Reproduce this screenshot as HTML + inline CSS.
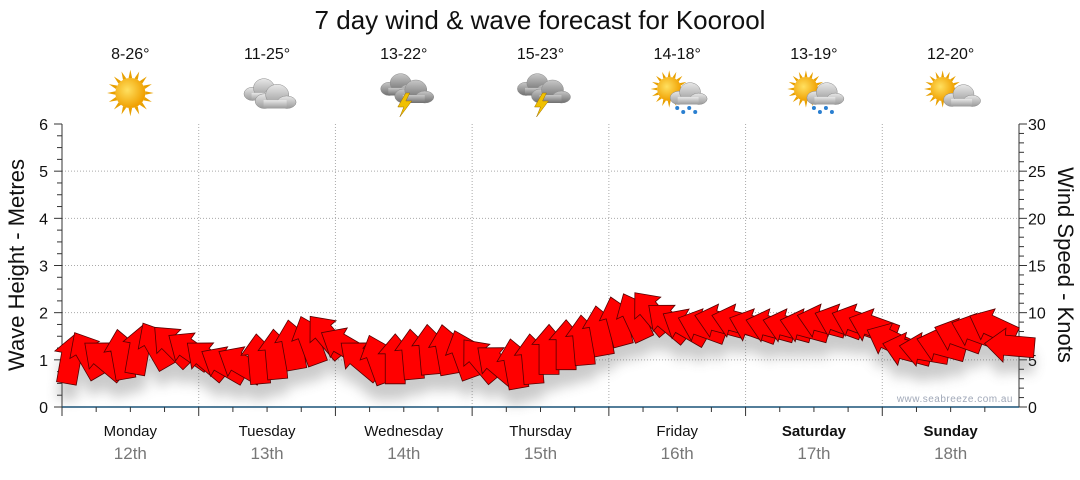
<!DOCTYPE html>
<html><head><meta charset="utf-8"><style>
body{margin:0;background:#fff;width:1080px;height:475px;overflow:hidden;font-family:"Liberation Sans","DejaVu Sans",sans-serif}
</style></head><body>
<svg width="1080" height="475" xmlns="http://www.w3.org/2000/svg" id="chart">
<defs>
<filter id="sh" x="-50%" y="-50%" width="200%" height="200%"><feGaussianBlur stdDeviation="6"/></filter>
<radialGradient id="sun" cx="40%" cy="40%" r="60%"><stop offset="0" stop-color="#ffe060"/><stop offset="1" stop-color="#f0a000"/></radialGradient>
<linearGradient id="cl" x1="0" y1="0" x2="0" y2="1"><stop offset="0" stop-color="#e8e8e8"/><stop offset="1" stop-color="#9a9a9a"/></linearGradient>
<linearGradient id="dcl" x1="0" y1="0" x2="0" y2="1"><stop offset="0" stop-color="#c8c8c8"/><stop offset="1" stop-color="#6e6e6e"/></linearGradient>
</defs>
<text x="540" y="29" text-anchor="middle" font-size="26" fill="#111">7 day wind &amp; wave forecast for Koorool</text>
<g id="grid"></g>
<g id="axes"></g>
<g id="icons"></g>
<g id="shadow" filter="url(#sh)" opacity="0.3"></g>
<g id="arrows"></g>
<text x="1013" y="402" text-anchor="end" font-size="10" fill="#a0a8b8" letter-spacing="0.5">www.seabreeze.com.au</text>
<text transform="translate(24,265) rotate(-90)" text-anchor="middle" font-size="22" fill="#111">Wave Height - Metres</text>
<text transform="translate(1058,265) rotate(90)" text-anchor="middle" font-size="22" fill="#111">Wind Speed - Knots</text>
</svg>
<script>
const days=["Monday","Tuesday","Wednesday","Thursday","Friday","Saturday","Sunday"];
const dates=["12th","13th","14th","15th","16th","17th","18th"];
const temps=["8-26°","11-25°","13-22°","15-23°","14-18°","13-19°","12-20°"];
const icons=["sun","cloud","storm","storm","sunrain","sunrain","suncloud"];
const waveTicks=[0,1,2,3,4,5,6];
const windTicks=[0,5,10,15,20,25,30];
// 3-hourly wind speed (knots)
const windSpeed=[5,5.5,5,5.5,6,6.5,6.5,6, 5,4.5,4.5,5,5.5,6.5,7,7.5, 6.5,5,5,5,5.5,6,6,5.5, 5,4.5,4.5,5,6,6.5,7,8, 9,9.5,10,9,8.5,8.5,9,9, 8.5,8.5,8.5,8.5,9,9,9,8.5, 7,6,6,6.5,7.5,8,8.5,6.5];
// arrow screen angle (deg, 0=right, -90=up)
const windDir=[-80,-120,-140,-100,-80,-120,-135,-145, -140,-150,-150,-95,-95,-100,-110,-130, -150,-140,-110,-90,-95,-95,-100,-110, -130,-140,-100,-95,-90,-90,-95,-100, -105,-115,-130,-140,-150,-160,-165,-165, -160,-165,-165,-165,-165,-160,-160,-160, -155,-165,-170,-165,-160,-160,-155,-175];
const X0=62,X1=1019,Y0=407,Y1=124;
const dayW=(X1-X0)/7;
const xT=t=>X0+t*dayW;
const yW=v=>Y0-(v/6)*(Y0-Y1);
const yK=v=>Y0-(v/30)*(Y0-Y1);
const NS="http://www.w3.org/2000/svg";
function mk(tag,attrs,parent){const e=document.createElementNS(NS,tag);for(const k in attrs)e.setAttribute(k,attrs[k]);parent.appendChild(e);return e;}
const grid=document.getElementById('grid'),axes=document.getElementById('axes'),ic=document.getElementById('icons');
waveTicks.forEach(v=>{if(v>0&&v<6){const l=mk('line',{x1:X0,x2:X1,y1:yW(v),y2:yW(v),stroke:'#aaa','stroke-dasharray':'1,2'},grid);}
 const t=mk('text',{x:48,y:yW(v)+6,'text-anchor':'end','font-size':16,fill:'#111'},axes);t.textContent=v;
 });
for(let i=0;i<=24;i++){const v=i*0.25;mk('line',{x1:X0-(i%4?5:8),x2:X0,y1:yW(v),y2:yW(v),stroke:'#333'},axes);}
windTicks.forEach(v=>{const t=mk('text',{x:1028,y:yK(v)+6,'text-anchor':'start','font-size':16,fill:'#111'},axes);t.textContent=v;
 });
for(let i=0;i<=30;i++){mk('line',{x1:X1,x2:X1+(i%5?5:8),y1:yK(i),y2:yK(i),stroke:'#333'},axes);}
mk('line',{x1:X0,x2:X0,y1:Y1,y2:Y0+8,stroke:'#333'},axes);
mk('line',{x1:X1,x2:X1,y1:Y1,y2:Y0,stroke:'#333'},axes);
mk('line',{x1:X0,x2:X1,y1:Y0,y2:Y0,stroke:'#1a5378','stroke-width':1.5},axes);
for(let d=0;d<7;d++){
 if(d>0){const l=mk('line',{x1:xT(d),x2:xT(d),y1:Y1,y2:Y0,stroke:'#aaa','stroke-dasharray':'1,2'},grid);}
 for(let q=0;q<4;q++){const x=xT(d+q/4);mk('line',{x1:x,x2:x,y1:Y0,y2:Y0+(q?5:9),stroke:'#333'},axes);}
 const cx=xT(d+0.5);
 const bold=d>=5;
 const dn=mk('text',{x:cx,y:436,'text-anchor':'middle','font-size':15,fill:'#111','font-weight':bold?'bold':'normal'},axes);dn.textContent=days[d];
 
 const dt=mk('text',{x:cx,y:459,'text-anchor':'middle','font-size':17,fill:'#777'},axes);dt.textContent=dates[d];
 
 const tt=mk('text',{x:cx,y:59,'text-anchor':'middle','font-size':16,fill:'#111'},ic);tt.textContent=temps[d];
 
 const g=mk('g',{transform:`translate(${cx},93)`},ic);
 
 drawIcon(g,icons[d]);
}
function sunG(g,dx,dy,r){for(let i=0;i<16;i++){const a=i*Math.PI/8;mk('polygon',{points:`${dx+Math.cos(a-0.12)*r},${dy+Math.sin(a-0.12)*r} ${dx+Math.cos(a)*(r*1.55)},${dy+Math.sin(a)*(r*1.55)} ${dx+Math.cos(a+0.12)*r},${dy+Math.sin(a+0.12)*r}`,fill:'#e8a000'},g);}mk('circle',{cx:dx,cy:dy,r:r,fill:'url(#sun)'},g);}
function cloud(g,dx,dy,s,f){mk('ellipse',{cx:dx-9*s,cy:dy+3*s,rx:9*s,ry:7*s,fill:f,stroke:'#888','stroke-width':0.5},g);mk('ellipse',{cx:dx+3*s,cy:dy-3*s,rx:11*s,ry:10*s,fill:f,stroke:'#888','stroke-width':0.5},g);mk('ellipse',{cx:dx+12*s,cy:dy+4*s,rx:9*s,ry:6*s,fill:f,stroke:'#888','stroke-width':0.5},g);mk('rect',{x:dx-10*s,y:dy+2*s,width:22*s,height:8*s,fill:f},g);}
function drawIcon(g,k){
 if(k=='sun'){sunG(g,0,0,15);}
 if(k=='cloud'){cloud(g,-6,-2,0.95,'url(#cl)');cloud(g,7,5,1.05,'url(#cl)');}
 if(k=='storm'){cloud(g,-6,-7,0.95,'url(#dcl)');cloud(g,9,0,1.0,'url(#dcl)');mk('polygon',{points:'2,0 -6,14 0,14 -4,24 8,8 2,8 6,0',fill:'#f0c000',stroke:'#a07000','stroke-width':0.5},g);}
 if(k=='sunrain'){sunG(g,-8,-4,12);cloud(g,10,2,0.95,'url(#cl)');for(let i=0;i<4;i++){mk('circle',{cx:0+i*6,cy:15+(i%2)*4,r:2,fill:'#2a7fd0'},g);}}
 if(k=='suncloud'){sunG(g,-8,-4,12);cloud(g,10,4,0.95,'url(#cl)');}
}
const arr=document.getElementById('arrows'),sh=document.getElementById('shadow');
const shape="-24,-10 6,-10 6,-17 26,0 6,17 6,10 -24,10";
windSpeed.forEach((v,i)=>{
 const x=xT((i+0.5)/8),y=yK(v);
 mk('polygon',{points:shape,fill:'#555',transform:`translate(${x},${y+16}) rotate(${windDir[i]})`},sh);
 const p=mk('polygon',{points:shape,fill:'#ff0000',stroke:'#500','stroke-width':0.8,transform:`translate(${x},${y}) rotate(${windDir[i]})`},arr);
 
 
});
</script>
</body></html>
